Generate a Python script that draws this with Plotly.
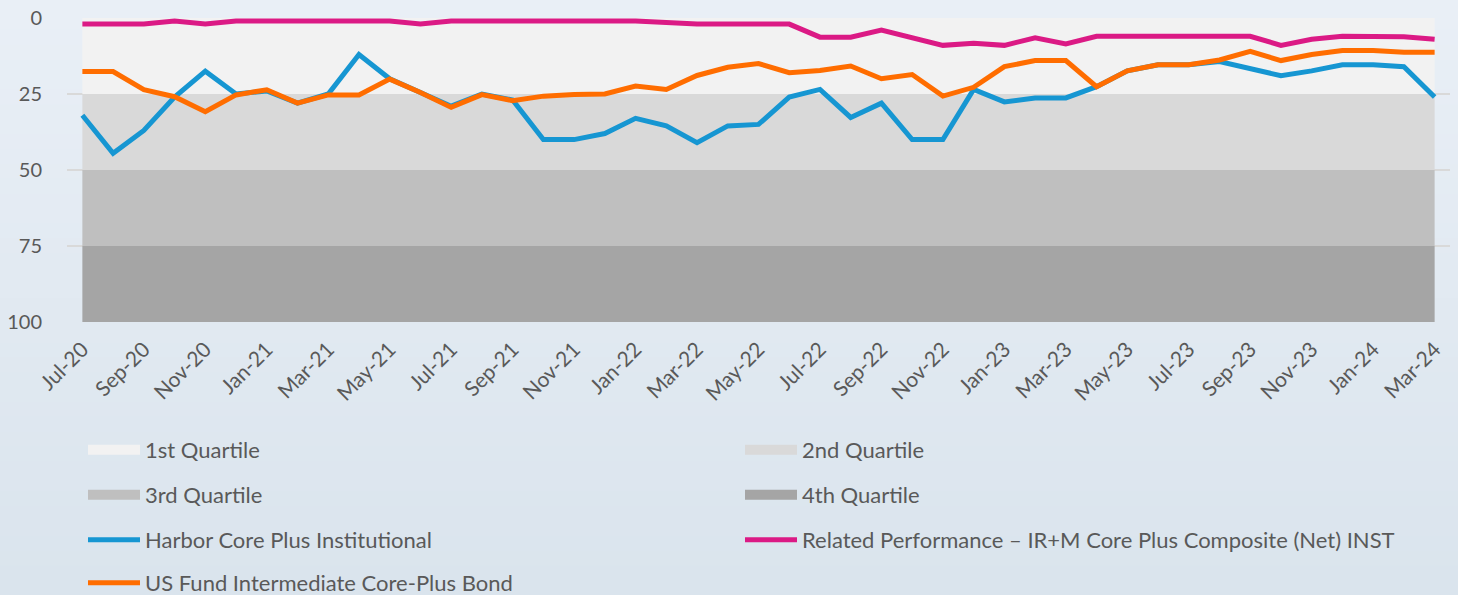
import plotly.graph_objects as go

months = ["Jul-20","Aug-20","Sep-20","Oct-20","Nov-20","Dec-20","Jan-21","Feb-21","Mar-21","Apr-21","May-21","Jun-21",
          "Jul-21","Aug-21","Sep-21","Oct-21","Nov-21","Dec-21","Jan-22","Feb-22","Mar-22","Apr-22","May-22","Jun-22",
          "Jul-22","Aug-22","Sep-22","Oct-22","Nov-22","Dec-22","Jan-23","Feb-23","Mar-23","Apr-23","May-23","Jun-23",
          "Jul-23","Aug-23","Sep-23","Oct-23","Nov-23","Dec-23","Jan-24","Feb-24","Mar-24"]

harbor = [32, 44.5, 37, 26, 17.5, 25, 24, 28, 25, 12, 20, 24.5,
          29, 25, 27, 40, 40, 38, 33, 35.5, 41, 35.5, 35, 26,
          23.5, 32.7, 28, 40, 40, 23.5, 27.6, 26.3, 26.3, 22.6, 17.4, 15.4,
          15.4, 14.3, 16.5, 19, 17.4, 15.4, 15.4, 16, 26]
related = [2, 2, 2, 1, 2, 1, 1, 1, 1, 1, 1, 2,
           1, 1, 1, 1, 1, 1, 1, 1.5, 2, 2, 2, 2,
           6.3, 6.3, 4, 6.7, 9, 8.3, 9, 6.5, 8.5, 6, 6, 6,
           6, 6, 6, 9, 7, 6, 6, 6.2, 7]
usfund = [17.6, 17.6, 23.6, 25.9, 30.8, 25.3, 23.6, 28, 25.3, 25.3, 20.1, 24.5,
          29.4, 25.2, 27.2, 25.7, 25.2, 25, 22.4, 23.5, 18.9, 16.2, 15, 18,
          17.3, 15.8, 20, 18.6, 25.7, 22.8, 16, 14, 14, 22.6, 17.4, 15.4,
          15.4, 13.8, 11, 14, 12, 10.7, 10.7, 11.3, 11.3]

quartile_names = ["1st Quartile", "2nd Quartile", "3rd Quartile", "4th Quartile"]
quartile_width = [25, 25, 25, 25]
quartile_colors = ["#F2F2F2", "#D9D9D9", "#BFBFBF", "#A5A5A5"]

tick_labels = months[::2]
y_ticks = [0, 25, 50, 75, 100]

W, H = 1458, 595
ML, MR, MT, MB = 67, 8, 18, 273
PW, PH = W - ML - MR, H - MT - MB

FONT = "Lato"
TXT = "#595959"

x = list(range(len(months)))
fig = go.Figure()

legend_ids = ["legend", "legend", "legend2", "legend2"]
for name, w, c in zip(quartile_names, quartile_width, quartile_colors):
    fig.add_trace(go.Scatter(x=x, y=[w] * len(x), stackgroup="q", mode="lines",
                             line=dict(width=0, color=c), fillcolor=c, showlegend=False,
                             hoverinfo="skip"))
for name, c, lg in zip(quartile_names, quartile_colors, legend_ids):
    fig.add_trace(go.Scatter(x=[None], y=[None], mode="lines", name=name,
                             line=dict(width=17, color=c), legend=lg))

series = [("Harbor Core Plus Institutional", harbor, "#1696D2", "legend3"),
          ("Related Performance – IR+M Core Plus Composite (Net) INST", related, "#DB1A85", "legend3"),
          ("US Fund Intermediate Core-Plus Bond", usfund, "#FF6D00", "legend4")]
for name, vals, c, lg in series:
    fig.add_trace(go.Scatter(x=x, y=vals, mode="lines", name=name,
                             line=dict(width=5, color=c), legend=lg))

# background gradient
def py2paper(py):
    return (H - MB - py) / PH

top = (233, 239, 246)
bot = (218, 228, 237)
N = 40
shapes = []
for k in range(N):
    t = k / (N - 1)
    col = "rgb(%d,%d,%d)" % tuple(round(a + (b - a) * t) for a, b in zip(top, bot))
    y0p = H * k / N
    y1p = H * (k + 1) / N + 1
    shapes.append(dict(type="rect", xref="paper", yref="paper", layer="below",
                       x0=-ML / PW, x1=1 + MR / PW, y0=py2paper(y1p), y1=py2paper(y0p),
                       fillcolor=col, line=dict(width=0)))

rows_y = [450, 495, 540, 583]
leg_common = dict(orientation="h", xref="container", yref="container", x=83 / W,
                  xanchor="left", yanchor="middle", bgcolor="rgba(0,0,0,0)",
                  font=dict(family=FONT, size=22, color=TXT), itemwidth=52,
                  entrywidth=590, entrywidthmode="pixels", traceorder="normal")

fig.update_layout(
    width=W, height=H,
    margin=dict(l=ML, r=MR, t=MT, b=MB, autoexpand=False),
    paper_bgcolor="rgb(225,233,241)", plot_bgcolor="rgba(0,0,0,0)",
    font=dict(family=FONT, size=22, color=TXT),
    shapes=shapes,
    xaxis=dict(range=[-0.5, len(x) - 0.5], tickmode="array", tickvals=x[::2], ticktext=tick_labels,
               tickangle=-45, showgrid=False, zeroline=False, showline=False,
               tickfont=dict(family=FONT, size=21, color=TXT), ticklabelstandoff=10),
    yaxis=dict(range=[100, 0], tickvals=y_ticks, showgrid=True, gridcolor="#D9D9D9", gridwidth=1.5,
               zeroline=False, showline=False, tickfont=dict(family=FONT, size=20, color=TXT),
               ticklabelstandoff=24),
    legend=dict(leg_common, y=1 - rows_y[0] / H),
    legend2=dict(leg_common, y=1 - rows_y[1] / H),
    legend3=dict(leg_common, y=1 - rows_y[2] / H),
    legend4=dict(leg_common, y=1 - rows_y[3] / H),
    showlegend=True,
)

fig.write_html("out.html", config={"displayModeBar": False},
               post_script="document.body.style.margin='0';document.body.style.overflow='hidden';")
